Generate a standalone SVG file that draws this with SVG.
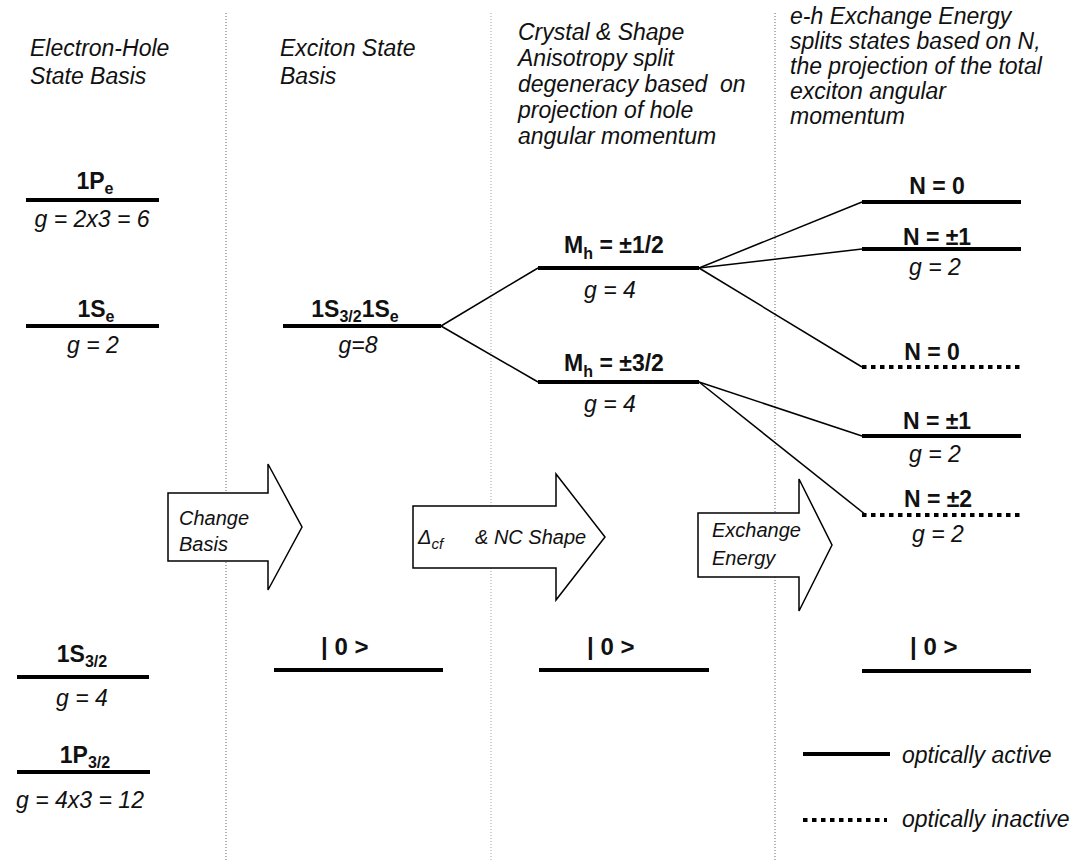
<svg xmlns="http://www.w3.org/2000/svg" width="1086" height="862" viewBox="0 0 1086 862">
<style>
text{font-family:"Liberation Sans",Arial,sans-serif;fill:#111}
.hdr{font-style:italic;font-size:23px}
.lbl{font-weight:bold;font-size:23px;text-anchor:middle}
.g{font-style:italic;font-size:23px;text-anchor:middle}
.arr{font-style:italic;font-size:20px}
.ket{font-size:24px;font-weight:bold}
.lvl{stroke:#000;stroke-width:4;fill:none}
.dot{stroke:#000;stroke-width:4;stroke-dasharray:4.5 4.5;fill:none}
.conn{stroke:#000;stroke-width:1.5;fill:none}
.guide{stroke:#666;stroke-width:1;stroke-dasharray:1 2;fill:none}
.blk{fill:#fff;stroke:#000;stroke-width:1.5}
</style>
<rect width="1086" height="862" fill="#fff"/>
<g id="guides">
<line class="guide" x1="226" y1="13" x2="226" y2="862"/>
<line class="guide" x1="491" y1="13" x2="491" y2="862" stroke-opacity="0.6"/>
<line class="guide" x1="775" y1="13" x2="775" y2="862"/>
</g>
<g id="headers">
<text class="hdr" x="30" y="56">Electron-Hole</text>
<text class="hdr" x="30" y="84">State Basis</text>
<text class="hdr" x="280" y="56">Exciton State</text>
<text class="hdr" x="280" y="84">Basis</text>
<text class="hdr" x="518" y="40">Crystal &amp; Shape</text>
<text class="hdr" x="518" y="66">Anisotropy split</text>
<text class="hdr" x="518" y="92" xml:space="preserve">degeneracy based  on</text>
<text class="hdr" x="518" y="118">projection of hole</text>
<text class="hdr" x="518" y="144">angular momentum</text>
<text class="hdr" x="790" y="24">e-h Exchange Energy</text>
<text class="hdr" x="790" y="49">splits states based on N,</text>
<text class="hdr" x="790" y="74">the projection of the total</text>
<text class="hdr" x="790" y="99">exciton angular</text>
<text class="hdr" x="790" y="124">momentum</text>
</g>
<g id="connectors">
<line class="conn" x1="441" y1="326" x2="538" y2="268"/>
<line class="conn" x1="441" y1="326" x2="538" y2="382"/>
<line class="conn" x1="699" y1="268" x2="862" y2="202"/>
<line class="conn" x1="699" y1="268" x2="862" y2="249"/>
<line class="conn" x1="699" y1="268" x2="862" y2="367"/>
<line class="conn" x1="699" y1="382" x2="862" y2="436"/>
<line class="conn" x1="699" y1="382" x2="866" y2="515"/>
</g>
<g id="n-1Pe">
<line class="lvl" x1="26" y1="200" x2="159" y2="200"/>
<text class="lbl" x="95" y="189">1P<tspan font-size="16" dy="5">e</tspan></text>
<text class="g" x="92" y="227">g = 2x3 = 6</text>
</g>
<g id="n-1Se">
<line class="lvl" x1="26" y1="326" x2="159" y2="326"/>
<text class="lbl" x="96" y="317">1S<tspan font-size="16" dy="5">e</tspan></text>
<text class="g" x="93" y="353">g = 2</text>
</g>
<g id="n-1S32-1Se">
<line class="lvl" x1="283" y1="326" x2="441" y2="326"/>
<text class="lbl" x="355" y="317">1S<tspan font-size="16" dy="5">3/2</tspan><tspan dy="-5">1S</tspan><tspan font-size="16" dy="5">e</tspan></text>
<text class="g" x="358" y="353">g=8</text>
</g>
<g id="n-Mh12">
<line class="lvl" x1="538" y1="268" x2="699" y2="268"/>
<text class="lbl" x="614" y="253">M<tspan font-size="16" dy="6">h</tspan><tspan dy="-6"> = ±1/2</tspan></text>
<text class="g" x="610" y="298">g = 4</text>
</g>
<g id="n-Mh32">
<line class="lvl" x1="538" y1="382" x2="699" y2="382"/>
<text class="lbl" x="614" y="371">M<tspan font-size="16" dy="6">h</tspan><tspan dy="-6"> = ±3/2</tspan></text>
<text class="g" x="610" y="412">g = 4</text>
</g>
<g id="n-N0a">
<line class="lvl" x1="862" y1="202" x2="1021" y2="202"/>
<text class="lbl" x="937" y="194">N = 0</text>
</g>
<g id="n-N1a">
<line class="lvl" x1="862" y1="249" x2="1021" y2="249"/>
<text class="lbl" x="937" y="245">N = ±1</text>
<text class="g" x="935" y="275">g = 2</text>
</g>
<g id="n-N0b">
<line class="dot" x1="862" y1="367" x2="1021" y2="367"/>
<text class="lbl" x="932" y="360">N = 0</text>
</g>
<g id="n-N1b">
<line class="lvl" x1="862" y1="436" x2="1021" y2="436"/>
<text class="lbl" x="937" y="429">N = ±1</text>
<text class="g" x="935" y="462">g = 2</text>
</g>
<g id="n-N2">
<line class="dot" x1="862" y1="515" x2="1021" y2="515"/>
<text class="lbl" x="938" y="507">N = ±2</text>
<text class="g" x="938" y="542">g = 2</text>
</g>
<g id="a-change">
<path class="blk" d="M168,493 H268 V464 L302,527 L268,590 V561 H168 Z"/>
<text class="arr" x="179" y="525">Change</text>
<text class="arr" x="179" y="551">Basis</text>
</g>
<g id="a-cf">
<path class="blk" d="M413,506 H556 V474 L605,537 L556,600 V568 H413 Z"/>
<text class="arr" x="418" y="544">Δ<tspan font-size="15" dy="5">cf</tspan></text>
<text class="arr" x="475" y="544">&amp; NC Shape</text>
</g>
<g id="a-exch">
<path class="blk" d="M698,513 H799 V479 L832,545 L799,611 V577 H698 Z"/>
<text class="arr" x="712" y="537">Exchange</text>
<text class="arr" x="712" y="565">Energy</text>
</g>
<g id="n-1S32">
<line class="lvl" x1="17" y1="677" x2="149" y2="677"/>
<text class="lbl" x="82" y="662">1S<tspan font-size="16" dy="5">3/2</tspan></text>
<text class="g" x="82" y="706">g = 4</text>
</g>
<g id="n-1P32">
<line class="lvl" x1="17" y1="772" x2="150" y2="772"/>
<text class="lbl" x="85" y="763">1P<tspan font-size="16" dy="5">3/2</tspan></text>
<text class="g" x="80" y="808">g = 4x3 = 12</text>
</g>
<g id="n-ground1">
<line class="lvl" x1="274" y1="670" x2="443" y2="670"/>
<text class="ket" x="321" y="655" xml:space="preserve">| 0 &gt;</text>
</g>
<g id="n-ground2">
<line class="lvl" x1="539" y1="670" x2="709" y2="670"/>
<text class="ket" x="587" y="655" xml:space="preserve">| 0 &gt;</text>
</g>
<g id="n-ground3">
<line class="lvl" x1="862" y1="671" x2="1031" y2="671"/>
<text class="ket" x="910" y="655" xml:space="preserve">| 0 &gt;</text>
</g>
<g id="legend">
<line class="lvl" x1="803" y1="754" x2="890" y2="754" stroke-width="5"/>
<text class="hdr" x="902" y="763">optically active</text>
<line class="dot" x1="803" y1="820" x2="887" y2="820"/>
<text class="hdr" x="902" y="827">optically inactive</text>
</g>
</svg>
